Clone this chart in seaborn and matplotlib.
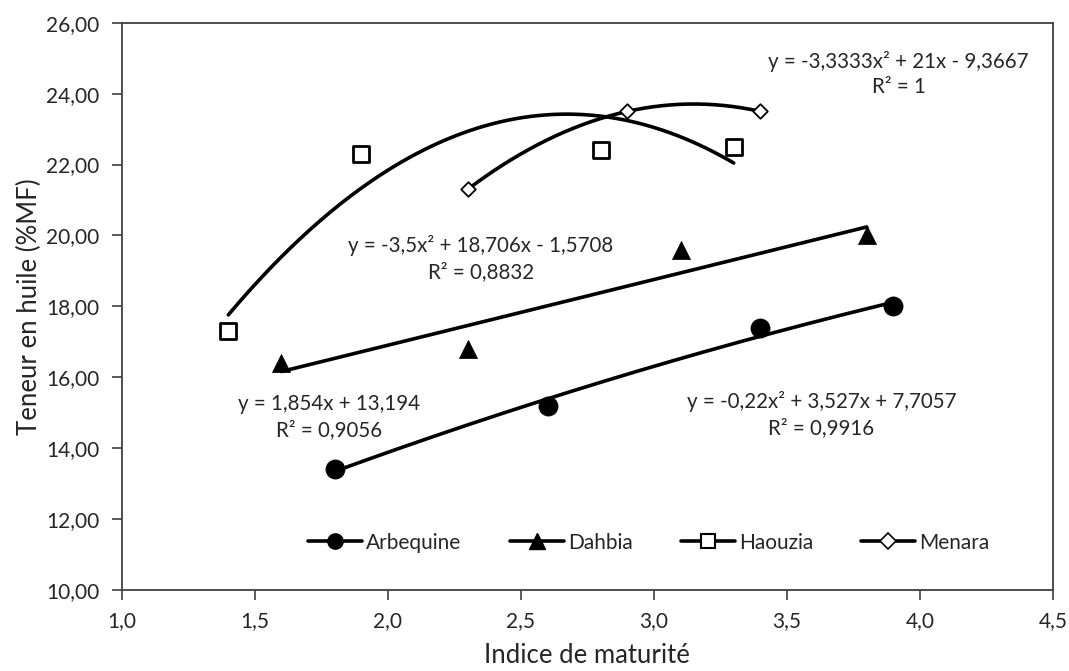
import numpy as np
import pandas as pd
import seaborn as sns
import matplotlib.pyplot as plt
from matplotlib.lines import Line2D
from matplotlib.ticker import FuncFormatter, MultipleLocator

# Données
varietes = ["Arbequine", "Dahbia", "Haouzia", "Menara"]
x_arbequine = [1.8, 2.6, 3.4, 3.9]
y_arbequine = [13.4, 15.2, 17.4, 18.0]
x_dahbia = [1.6, 2.3, 3.1, 3.8]
y_dahbia = [16.4, 16.8, 19.6, 20.0]
x_haouzia = [1.4, 1.9, 2.8, 3.3]
y_haouzia = [17.3, 22.3, 22.4, 22.5]
x_menara = [2.3, 2.9, 3.4]
y_menara = [21.3, 23.5, 23.5]

# Coefficients des courbes de tendance (affichés sur la figure)
coef_arbequine = [-0.22, 3.527, 7.7057]
coef_dahbia = [1.854, 13.194]
coef_haouzia = [-3.5, 18.706, -1.5708]
coef_menara = [-3.3333, 21, -9.3667]

equations = [
    ("y = -0,22x² + 3,527x + 7,7057\nR² = 0,9916", 3.63, 14.95),
    ("y = 1,854x + 13,194\nR² = 0,9056", 1.78, 14.87),
    ("y = -3,5x² + 18,706x - 1,5708\nR² = 0,8832", 2.35, 19.35),
    ("y = -3,3333x² + 21x - 9,3667\nR² = 1", 3.92, 24.55),
]

df = pd.DataFrame({
    "x": x_arbequine + x_dahbia + x_haouzia + x_menara,
    "y": y_arbequine + y_dahbia + y_haouzia + y_menara,
    "variete": (["Arbequine"] * len(x_arbequine) + ["Dahbia"] * len(x_dahbia)
                + ["Haouzia"] * len(x_haouzia) + ["Menara"] * len(x_menara)),
})

sns.set_style("ticks")
plt.rcParams["font.family"] = ["Lato", "DejaVu Sans"]
couleur_texte = "#262626"

fig = plt.figure(figsize=(10.69, 6.71), dpi=100)
ax = fig.add_axes([0.114, 0.121, 0.871, 0.845])

# Courbes de tendance
series = [
    (x_arbequine, coef_arbequine),
    (x_dahbia, coef_dahbia),
    (x_haouzia, coef_haouzia),
    (x_menara, coef_menara),
]
for xs, coef in series:
    xx = np.linspace(min(xs), max(xs), 200)
    sns.lineplot(x=xx, y=np.polyval(coef, xx), ax=ax, color="black", lw=2.6)

# Points
styles = {
    "Arbequine": dict(marker="o", s=190, color="black", edgecolor="black", linewidth=0.5),
    "Dahbia": dict(marker="^", s=170, color="black", edgecolor="black", linewidth=0.5),
    "Haouzia": dict(marker="s", s=120, color="white", edgecolor="black", linewidth=2.0),
    "Menara": dict(marker="D", s=55, color="white", edgecolor="black", linewidth=1.3),
}
for v in varietes:
    d = df[df["variete"] == v]
    sns.scatterplot(data=d, x="x", y="y", ax=ax, zorder=3, legend=False, **styles[v])

for txt, xt, yt in equations:
    ax.text(xt, yt, txt, ha="center", va="center", multialignment="center",
            fontsize=14.8, linespacing=1.35, color=couleur_texte)

ax.set_xlim(1.0, 4.5)
ax.set_ylim(10, 26)
ax.xaxis.set_major_locator(MultipleLocator(0.5))
ax.yaxis.set_major_locator(MultipleLocator(2))
ax.xaxis.set_major_formatter(FuncFormatter(lambda v, p: f"{v:.1f}".replace(".", ",")))
ax.yaxis.set_major_formatter(FuncFormatter(lambda v, p: f"{v:.2f}".replace(".", ",")))
ax.tick_params(direction="out", length=7, width=1.2, color="#404040", labelsize=15,
               labelcolor=couleur_texte)
ax.tick_params(axis="x", pad=8)
ax.tick_params(axis="y", pad=9)
for sp in ax.spines.values():
    sp.set_visible(True)
    sp.set_color("#404040")
    sp.set_linewidth(1.3)

ax.set_xlabel("Indice de maturité", fontsize=18.5, color=couleur_texte, labelpad=9)
ax.set_ylabel("Teneur en huile (%MF)", fontsize=18.5, color=couleur_texte, labelpad=3)

handles = [
    Line2D([], [], color="black", lw=2.6, marker="o", ms=11, mfc="black", mec="black"),
    Line2D([], [], color="black", lw=2.6, marker="^", ms=11, mfc="black", mec="black"),
    Line2D([], [], color="black", lw=2.6, marker="s", ms=10, mfc="white", mec="black", mew=1.5),
    Line2D([], [], color="black", lw=2.6, marker="D", ms=8, mfc="white", mec="black", mew=1.2),
]
ax.legend(handles, varietes, loc="center left", bbox_to_anchor=(0.2, 0.083), ncol=4,
          frameon=False, fontsize=15, handlelength=2.6, handletextpad=0.2,
          columnspacing=2.3, borderaxespad=0, borderpad=0)

fig.savefig("out.png", dpi=100)
